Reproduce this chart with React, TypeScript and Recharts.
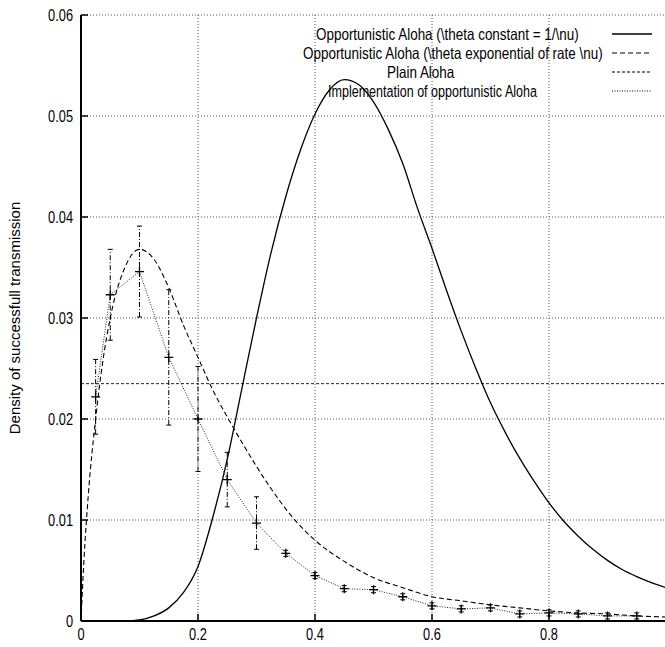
import React from 'react';
import { ComposedChart, Line, XAxis, YAxis, CartesianGrid, ErrorBar, Legend } from 'recharts';

// theta constant = 1/nu (solid)
const solidX = [0, 0.025, 0.05, 0.075, 0.1, 0.125, 0.15, 0.175, 0.2, 0.225, 0.25, 0.275, 0.3, 0.325, 0.35, 0.375, 0.4, 0.425, 0.45, 0.475, 0.5, 0.525, 0.55, 0.575, 0.6, 0.625, 0.65, 0.675, 0.7, 0.725, 0.75, 0.775, 0.8, 0.825, 0.85, 0.875, 0.9, 0.925, 0.95, 0.975, 1];
const solidY = [0, 0, 0, 0, 0.0001, 0.0005, 0.0013, 0.0028, 0.0054, 0.0102, 0.016, 0.023, 0.03, 0.0365, 0.042, 0.0466, 0.0502, 0.0526, 0.0536, 0.0531, 0.0514, 0.0487, 0.0453, 0.0409, 0.0369, 0.0327, 0.0287, 0.025, 0.0216, 0.0187, 0.0161, 0.0138, 0.0117, 0.0099, 0.0084, 0.0071, 0.006, 0.0051, 0.0044, 0.0038, 0.0033];

// theta exponential of rate nu (dashed)
const dashX = [0, 0.005, 0.0125, 0.025, 0.0375, 0.05, 0.075, 0.1, 0.125, 0.15, 0.175, 0.2, 0.225, 0.25, 0.275, 0.3, 0.325, 0.35, 0.375, 0.4, 0.45, 0.5, 0.55, 0.6, 0.65, 0.7, 0.75, 0.8, 0.85, 0.9, 0.95, 1];
const dashY = [0, 0.006, 0.0125, 0.02, 0.0258, 0.03, 0.035, 0.0368, 0.0358, 0.033, 0.0293, 0.0261, 0.0229, 0.0202, 0.0177, 0.0153, 0.0131, 0.0111, 0.0094, 0.008, 0.0059, 0.0043, 0.0033, 0.0024, 0.002, 0.0016, 0.0013, 0.001, 0.0008, 0.0007, 0.0005, 0.0004];

// plain Aloha (constant)
const plainX = [0, 1];
const plainY = [0.0235, 0.0235];

// implementation, measured points with error bars
const implX = [0.025, 0.05, 0.1, 0.15, 0.2, 0.25, 0.3, 0.35, 0.4, 0.45, 0.5, 0.55, 0.6, 0.65, 0.7, 0.75, 0.8, 0.85, 0.9, 0.95];
const implY = [0.0222, 0.0323, 0.0346, 0.0261, 0.02, 0.014, 0.0097, 0.0067, 0.0045, 0.0032, 0.0031, 0.0024, 0.0015, 0.0012, 0.0013, 0.0007, 0.0008, 0.0007, 0.0005, 0.0005];
const implErr = [0.0037, 0.0045, 0.0045, 0.0067, 0.0052, 0.0027, 0.0026, 0.0003, 0.0003, 0.0003, 0.0003, 0.0003, 0.0003, 0.0003, 0.0003, 0.0003, 0.0003, 0.0003, 0.0003, 0.0003];

const xTicks = [0, 0.2, 0.4, 0.6, 0.8];
const yTicks = [0, 0.01, 0.02, 0.03, 0.04, 0.05, 0.06];

const seriesNames = [
  'Opportunistic Aloha (\\theta constant = 1/\\nu)',
  'Opportunistic Aloha (\\theta exponential of rate \\nu)',
  'Plain Aloha',
  'Implementation of opportunistic Aloha',
];

const solidData = solidX.map((x, i) => ({ x, y: solidY[i] }));
const dashData = dashX.map((x, i) => ({ x, y: dashY[i] }));
const plainData = plainX.map((x, i) => ({ x, y: plainY[i] }));
const implData = implX.map((x, i) => ({ x, y: implY[i], err: implErr[i] }));

const SANS = "'Liberation Sans', Arial, sans-serif";
// no narrow font installed, so squeeze the regular one
const SQUEEZE = 0.8;

const fmt = (v: number) => String(Number(v.toFixed(2)));

// gnuplot style ticks: pointing inside the frame
const BottomTick = (props: any) => {
  const { x, y, payload } = props;
  return (
    <g>
      <line x1={x} x2={x} y1={y} y2={y - 7} stroke="#000" strokeWidth={1.5} />
      <text
        transform={`translate(${x},${y + 19}) scale(${SQUEEZE},1)`}
        textAnchor="middle"
        fontSize={16}
        fontFamily={SANS}
        fill="#000"
      >
        {fmt(payload.value)}
      </text>
    </g>
  );
};
const TopTick = (props: any) => {
  const { x, y } = props;
  return <line x1={x} x2={x} y1={y} y2={y + 7} stroke="#000" strokeWidth={1.5} />;
};
const LeftTick = (props: any) => {
  const { x, y, payload } = props;
  return (
    <g>
      <line x1={x} x2={x + 7} y1={y} y2={y} stroke="#000" strokeWidth={1.5} />
      <text
        transform={`translate(${x - 8},${y + 5.5}) scale(${SQUEEZE},1)`}
        textAnchor="end"
        fontSize={16}
        fontFamily={SANS}
        fill="#000"
      >
        {fmt(payload.value)}
      </text>
    </g>
  );
};
const RightTick = (props: any) => {
  const { x, y } = props;
  return <line x1={x} x2={x - 7} y1={y} y2={y} stroke="#000" strokeWidth={1.5} />;
};

const PlusDot = (props: any) => {
  const { cx, cy, index } = props;
  if (cx == null || cy == null) return <g key={`d${index}`} />;
  return (
    <path
      key={`d${index}`}
      d={`M${cx - 4.5},${cy}H${cx + 4.5}M${cx},${cy - 4.5}V${cy + 4.5}`}
      stroke="#000"
      strokeWidth={1.3}
      fill="none"
    />
  );
};

const legendStyle = [
  { dash: undefined, width: 1.3, x0: 316, sx: 0.815 },
  { dash: '5 3', width: 1.1, x0: 303, sx: 0.815 },
  { dash: '3 2', width: 1, x0: 387, sx: 0.815 },
  { dash: '1 1.5', width: 1, x0: 328, sx: 0.76 },
];

const KeyBox = () => (
  <svg width={665} height={110} style={{ display: 'block' }}>
    {seriesNames.map((name, i) => {
      const s = legendStyle[i];
      const cy = 34 + i * 19;
      return (
        <g key={name}>
          <text
            transform={`translate(${s.x0},${cy + 6}) scale(${s.sx},1)`}
            fontSize={16.5}
            fontFamily={SANS}
            fill="#000"
          >
            {name}
          </text>
          <line x1={612} x2={652} y1={cy} y2={cy} stroke="#000" strokeWidth={s.width} strokeDasharray={s.dash} />
        </g>
      );
    })}
  </svg>
);

const YLabel = (props: any) => {
  const vb = props.viewBox || { x: 0, y: 15, width: 81, height: 606 };
  const cx = vb.x + 14;
  const cy = vb.y + vb.height / 2;
  return (
    <text
      transform={`translate(${cx},${cy}) rotate(-90)`}
      textAnchor="middle"
      dominantBaseline="central"
      fontSize={15}
      fontFamily={SANS}
      fill="#000"
    >
      Density of successfull transmission
    </text>
  );
};

export default function App() {
  return (
    <div style={{ position: 'absolute', left: 0, top: 0, width: 665, height: 647, overflow: 'hidden', background: '#fff' }}>
      <ComposedChart width={680} height={647} margin={{ top: 15, right: 14, bottom: 0, left: 0 }}>
        <CartesianGrid stroke="#555" strokeDasharray="1 2" strokeWidth={1} />
        <XAxis
          type="number"
          dataKey="x"
          domain={[0, 1]}
          ticks={xTicks}
          interval={0}
          height={26}
          tickSize={0}
          tickMargin={0}
          tick={<BottomTick />}
          axisLine={{ stroke: '#000', strokeWidth: 2 }}
          allowDataOverflow
        />
        <XAxis
          xAxisId="top"
          orientation="top"
          type="number"
          dataKey="x"
          domain={[0, 1]}
          ticks={xTicks}
          interval={0}
          height={0}
          tickSize={0}
          tickMargin={0}
          tick={<TopTick />}
          axisLine={{ stroke: '#000', strokeWidth: 2 }}
        />
        <YAxis
          type="number"
          domain={[0, 0.06]}
          ticks={yTicks}
          interval={0}
          width={81}
          tickSize={0}
          tickMargin={0}
          tick={<LeftTick />}
          axisLine={{ stroke: '#000', strokeWidth: 2 }}
          label={{ content: <YLabel /> }}
          allowDataOverflow
        />
        <YAxis
          yAxisId="right"
          orientation="right"
          type="number"
          domain={[0, 0.06]}
          ticks={yTicks}
          interval={0}
          width={0}
          tickSize={0}
          tickMargin={0}
          tick={<RightTick />}
          axisLine={{ stroke: '#000', strokeWidth: 2 }}
        />
        <Legend
          verticalAlign="middle"
          align="center"
          layout="horizontal"
          content={<KeyBox />}
          wrapperStyle={{ position: 'absolute', left: 0, top: 0, width: 665, height: 110, pointerEvents: 'none' }}
        />
        <Line
          data={plainData}
          dataKey="y"
          name={seriesNames[2]}
          type="linear"
          stroke="#222"
          strokeWidth={1}
          strokeDasharray="3 2"
          dot={false}
          isAnimationActive={false}
        />
        <Line
          data={solidData}
          dataKey="y"
          name={seriesNames[0]}
          type="monotone"
          stroke="#000"
          strokeWidth={1.3}
          dot={false}
          isAnimationActive={false}
        />
        <Line
          data={dashData}
          dataKey="y"
          name={seriesNames[1]}
          type="monotone"
          stroke="#000"
          strokeWidth={1.1}
          strokeDasharray="5 3"
          dot={false}
          isAnimationActive={false}
        />
        <Line
          data={implData}
          dataKey="y"
          name={seriesNames[3]}
          type="linear"
          stroke="#222"
          strokeWidth={1}
          strokeDasharray="1 1.5"
          dot={<PlusDot />}
          isAnimationActive={false}
        >
          <ErrorBar dataKey="err" direction="y" width={2.5} stroke="#000" strokeWidth={1} strokeDasharray="5 2 1 2" />
        </Line>
      </ComposedChart>
    </div>
  );
}
